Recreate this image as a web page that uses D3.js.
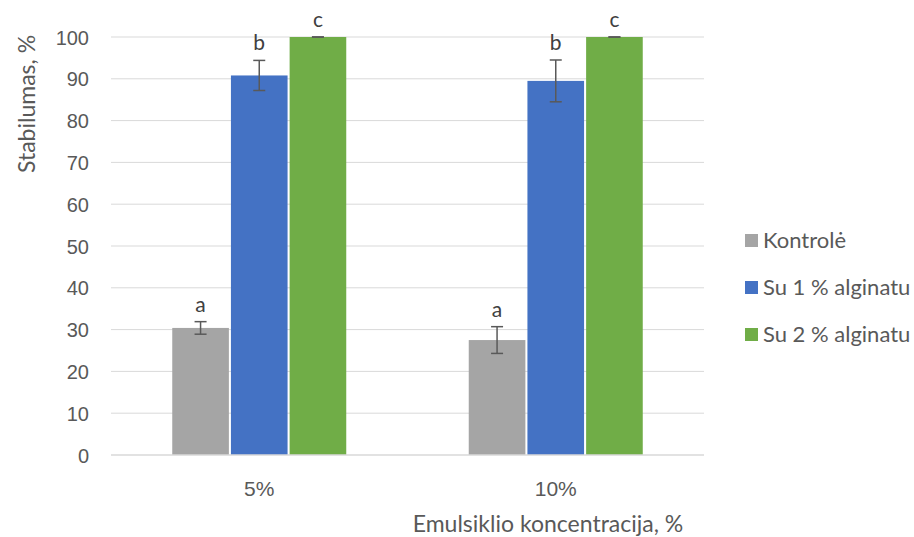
<!DOCTYPE html>
<html>
<head>
<meta charset="utf-8">
<script src="https://cdn.jsdelivr.net/npm/d3@7"></script>
<style>
  body { margin: 0; background: #fff; }
  svg { display: block; font-family: Lato, "Open Sans", "Liberation Sans", sans-serif; }
</style>
</head>
<body>
<svg id="chart" width="914" height="537"></svg>
<script>
// Data
const categories = ["5%", "10%"];
const seriesNames = ["Kontrolė", "Su 1 % alginatu", "Su 2 % alginatu"];
const seriesColors = ["#a5a5a5", "#4472c4", "#70ad47"];
const kontrole = [30.4, 27.5];
const alginatas1 = [90.8, 89.5];
const alginatas2 = [100, 100];
const errKontrole = [1.5, 3.2];
const errAlginatas1 = [3.6, 5.0];
const errAlginatas2 = [0, 0];
const letters = [["a", "b", "c"], ["a", "b", "c"]];
const yTicks = [0, 10, 20, 30, 40, 50, 60, 70, 80, 90, 100];

const values = [kontrole, alginatas1, alginatas2];
const errors = [errKontrole, errAlginatas1, errAlginatas2];

const svg = d3.select("#chart");
const plotLeft = 111, plotRight = 704, plotTop = 37, plotBottom = 455;

const x = d3.scaleBand().domain(categories).range([plotLeft, plotRight]).paddingInner(0).paddingOuter(0);
const bandW = x.bandwidth();
const groupW = 174;
const xs = d3.scaleBand().domain(d3.range(seriesNames.length)).range([0, groupW]).paddingInner(0.035);
const y = d3.scaleLinear().domain([0, 100]).range([plotBottom, plotTop]);

// Gridlines
svg.append("g")
  .selectAll("line").data(yTicks.filter(d => d > 0)).join("line")
  .attr("x1", plotLeft).attr("x2", plotRight)
  .attr("y1", d => y(d)).attr("y2", d => y(d))
  .attr("stroke", "#d9d9d9").attr("stroke-width", 1);

// Y axis labels
const yAxis = d3.axisLeft(y).tickValues(yTicks).tickSize(0).tickPadding(0);
const yg = svg.append("g").attr("transform", `translate(${plotLeft - 22},0)`).call(yAxis);
yg.select(".domain").remove();
yg.selectAll("text").attr("fill", "#595959").style("font-size", "20px").attr("dy", "0.35em");

// Bars
const rows = [];
categories.forEach((c, i) => {
  seriesNames.forEach((s, j) => {
    rows.push({ cat: c, s: j, v: values[j][i], e: errors[j][i], letter: letters[i][j] });
  });
});
const bx = d => x(d.cat) + (bandW - groupW) / 2 + xs(d.s);

svg.append("g").selectAll("rect").data(rows).join("rect")
  .attr("x", bx)
  .attr("y", d => y(d.v))
  .attr("width", xs.bandwidth())
  .attr("height", d => y(0) - y(d.v))
  .attr("fill", d => seriesColors[d.s]);

// Error bars
const eg = svg.append("g").attr("stroke", "#595959").attr("stroke-width", 1.5);
rows.forEach(d => {
  const cx = bx(d) + xs.bandwidth() / 2;
  const y1 = y(d.v + d.e), y2 = y(d.v - d.e);
  if (d.e > 0) eg.append("line").attr("x1", cx).attr("x2", cx).attr("y1", y1).attr("y2", y2);
  eg.append("line").attr("x1", cx - 6).attr("x2", cx + 6).attr("y1", y1).attr("y2", y1);
  eg.append("line").attr("x1", cx - 6).attr("x2", cx + 6).attr("y1", y2).attr("y2", y2);
});

// Significance letters
svg.append("g").selectAll("text").data(rows).join("text")
  .attr("x", d => bx(d) + xs.bandwidth() / 2)
  .attr("y", d => y(d.v + d.e) - 10)
  .attr("text-anchor", "middle")
  .attr("fill", "#404040")
  .style("font-size", "21px")
  .text(d => d.letter);

// X axis baseline and labels
svg.append("line").attr("x1", plotLeft).attr("x2", plotRight).attr("y1", plotBottom).attr("y2", plotBottom)
  .attr("stroke", "#d9d9d9").attr("stroke-width", 1.5);
const xAxis = d3.axisBottom(x).tickSize(0).tickPadding(0);
const xg = svg.append("g").attr("transform", `translate(0,${plotBottom + 41})`).call(xAxis);
xg.select(".domain").remove();
xg.selectAll("text").attr("fill", "#595959").style("font-size", "21px").attr("dy", "0");

// Axis titles
svg.append("text").attr("x", 548).attr("y", 532).attr("text-anchor", "middle")
  .attr("fill", "#595959").style("font-size", "23px").text("Emulsiklio koncentracija, %");
svg.append("text").attr("transform", "translate(35,104) rotate(-90)").attr("text-anchor", "middle")
  .attr("fill", "#595959").style("font-size", "23px").text("Stabilumas, %");

// Legend
const lg = svg.append("g").selectAll("g").data(seriesNames).join("g")
  .attr("transform", (d, i) => `translate(745,${240 + i * 47})`);
lg.append("rect").attr("x", 0).attr("y", -6).attr("width", 13).attr("height", 13)
  .attr("fill", (d, i) => seriesColors[i]);
lg.append("text").attr("x", 18).attr("y", 0).attr("dy", "0.35em")
  .attr("fill", "#595959").style("font-size", "22px").text(d => d);
</script>
</body>
</html>
